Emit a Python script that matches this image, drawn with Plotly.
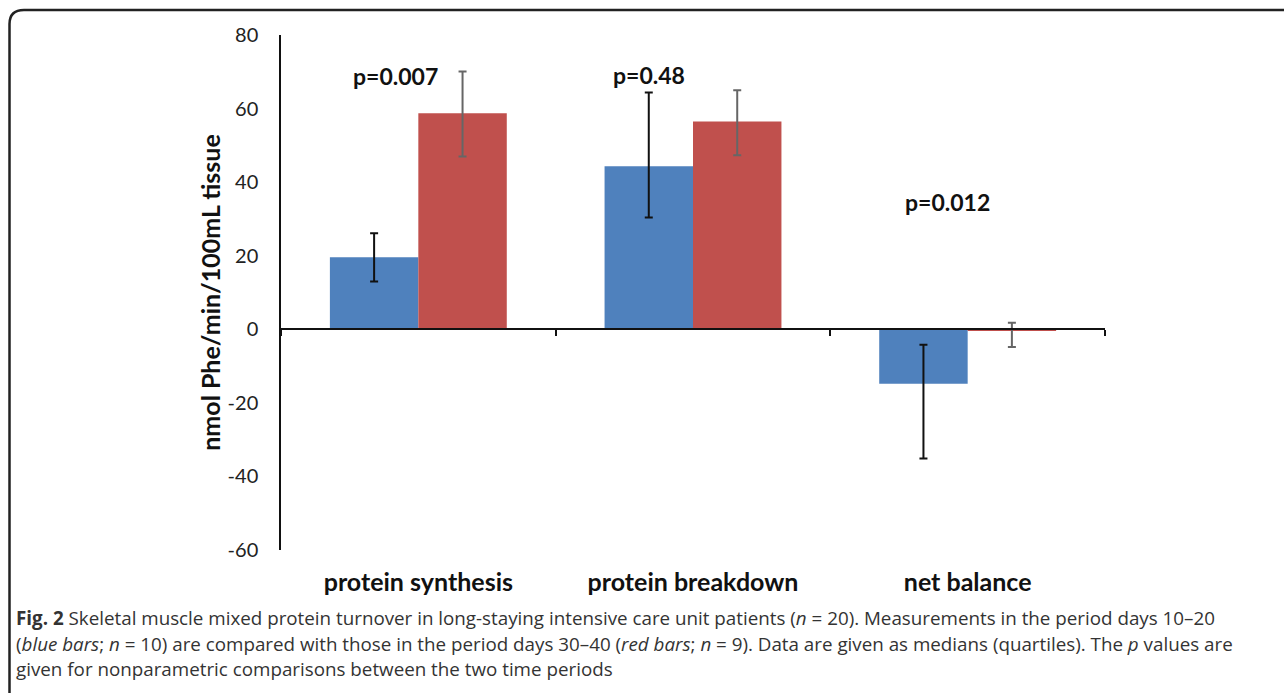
import plotly.graph_objects as go

# ---- data ----
categories = ["protein synthesis", "protein breakdown", "net balance"]
days_10_20 = [19.6, 44.3, -14.8]          # blue bars (medians)
days_10_20_q_upper = [26.1, 64.4, -4.2]    # upper quartile
days_10_20_q_lower = [13.0, 30.4, -35.1]   # lower quartile
days_30_40 = [58.7, 56.5, -0.4]           # red bars (medians)
days_30_40_q_upper = [70.1, 65.0, 1.8]
days_30_40_q_lower = [47.0, 47.3, -4.8]
p_values = ["p=0.007", "p=0.48", "p=0.012"]
y_ticks = [-60, -40, -20, 0, 20, 40, 60, 80]
y_tick_labels = ["-60", "-40", "-20", "0", "20", "40", "60", "80"]
caption_lines = [
    "<b>Fig. 2</b> Skeletal muscle mixed protein turnover in long-staying intensive care unit patients (<i>n</i> = 20). Measurements in the period days 10–20",
    "(<i>blue bars</i>; <i>n</i> = 10) are compared with those in the period days 30–40 (<i>red bars</i>; <i>n</i> = 9). Data are given as medians (quartiles). The <i>p</i> values are",
    "given for nonparametric comparisons between the two time periods",
]

W, H = 1284, 693
L, R, T, B = 281, 179, 35, 143
YMIN, YMAX = -60, 80


def px_x(px):
    return (px - L) / (W - L - R)


def px_y(py):
    return (H - B - py) / (H - T - B)


def err(vals, up, lo):
    return dict(type="data", symmetric=False,
                array=[u - v for u, v in zip(up, vals)],
                arrayminus=[v - l for v, l in zip(vals, lo)])


fig = go.Figure()
e1 = err(days_10_20, days_10_20_q_upper, days_10_20_q_lower)
e1.update(color="#111111", thickness=2, width=4)
fig.add_trace(go.Bar(x=categories, y=days_10_20, marker_color="#4F81BD",
                     marker_line_width=0, error_y=e1, name="days 10–20"))
e2 = err(days_30_40, days_30_40_q_upper, days_30_40_q_lower)
e2.update(color="#666666", thickness=2, width=4)
fig.add_trace(go.Bar(x=categories, y=days_30_40, marker_color="#C0504D",
                     marker_line_width=0, error_y=e2, name="days 30–40"))
# carrier for the bottom category-label axis (draws nothing)
fig.add_trace(go.Scatter(x=categories, y=[None] * len(categories), xaxis="x2",
                         mode="markers", showlegend=False, hoverinfo="skip"))

zero_pos = (0 - YMIN) / (YMAX - YMIN)

annotations = []
p_offsets = [(-0.084, 68.8), (0.84, 69.0), (1.925, 34.5)]
for (xo, yo), txt in zip(p_offsets, p_values):
    annotations.append(dict(x=xo, y=yo, xref="x", yref="y", text=f"<b>{txt}</b>",
                            showarrow=False, font=dict(family="Lato", size=23, color="#111111")))
for i, line in enumerate(caption_lines):
    annotations.append(dict(x=px_x(14), y=px_y(618 + i * 25.5), xref="paper", yref="paper",
                            xanchor="left", yanchor="middle", align="left", text=line,
                            showarrow=False, font=dict(family="Open Sans", size=18.8, color="#333333")))

border = (f"M {px_x(9.5)} {px_y(700)} L {px_x(9.5)} {px_y(24)} "
          f"Q {px_x(9.5)} {px_y(10)} {px_x(24)} {px_y(10)} L {px_x(1300)} {px_y(10)}")

fig.update_layout(
    width=W, height=H,
    margin=dict(l=L, r=R, t=T, b=B),
    paper_bgcolor="white", plot_bgcolor="white",
    barmode="group", bargap=0.356, bargroupgap=0,
    showlegend=False,
    annotations=annotations,
    shapes=[dict(type="path", path=border, xref="paper", yref="paper",
                 line=dict(color="#222222", width=2.5), layer="above")],
    xaxis=dict(type="category", categoryarray=categories, anchor="free", position=zero_pos,
               showline=True, linecolor="#111111", linewidth=1.5,
               ticks="outside", tickson="boundaries", ticklen=6, tickcolor="#111111", tickwidth=1.5,
               showticklabels=False, showgrid=False, zeroline=False),
    xaxis2=dict(type="category", categoryarray=categories, overlaying="x", matches="x",
                anchor="y", side="bottom", showline=False, ticks="", showgrid=False,
                tickvals=categories, ticktext=[f"<b>{c}</b>" for c in categories],
                ticklabelstandoff=15,
                tickfont=dict(family="Lato", size=25, color="#111111")),
    yaxis=dict(range=[YMIN, YMAX], tickvals=y_ticks, ticktext=y_tick_labels,
               showgrid=False, zeroline=False,
               showline=True, linecolor="#111111", linewidth=1.5, ticks="",
               ticklabelstandoff=17,
               tickfont=dict(family="Lato", size=20, color="#222222"),
               title=dict(text="<b>nmol Phe/min/100mL tissue</b>", standoff=0,
                          font=dict(family="Lato", size=25, color="#111111"))),
)

fig.write_html("out.html", config={"displayModeBar": False},
               post_script="document.body.style.margin='0px';")
